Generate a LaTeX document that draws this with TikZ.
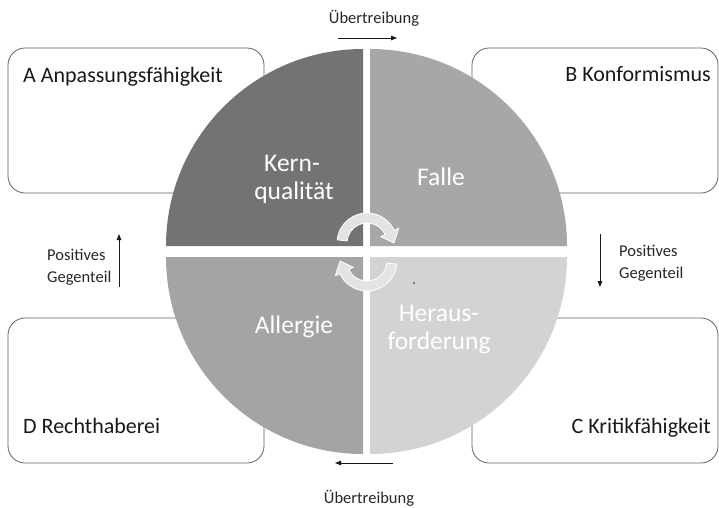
\documentclass[tikz,border=0pt]{standalone}
\usepackage{fontspec}
\setmainfont{Carlito}
\usetikzlibrary{arrows.meta}
\definecolor{qdark}{HTML}{737373}
\definecolor{qmid}{HTML}{A7A7A7}
\definecolor{qmidb}{HTML}{A4A4A4}
\definecolor{qlight}{HTML}{D3D3D3}
\definecolor{cyc}{HTML}{E3E3E3}
\begin{document}
\begin{tikzpicture}[x=1pt,y=1pt,
  box/.style={draw=black!62, line width=0.8pt, rounded corners=17pt, minimum width=#1, minimum height=145pt, inner sep=0pt, outer sep=0pt},
  blab/.style={font=\fontsize{22}{26}\selectfont, text=black!90, inner sep=0pt},
  inlab/.style={font=\fontsize{25.5}{30}\selectfont, text=white, inner sep=0pt},
  slab/.style={font=\fontsize{16.5}{20}\selectfont, text=black!85, inner sep=0pt},
  sarrow/.style={line width=0.9pt, draw=black!90, -{Triangle[length=6pt,width=4.5pt]}},
  cycarrow/.style={fill=cyc, draw=white, line width=0.8pt, line join=round}
]
\useasboundingbox (0,0) rectangle (719,-507);

% corner boxes (behind the circle)
\node[box=256pt] (boxA) at (136,-120.5) {};
\node[box=246pt] (boxB) at (595,-120.5) {};
\node[box=256pt] (boxD) at (136,-390.5) {};
\node[box=246pt] (boxC) at (595,-390.5) {};

% quadrants
\fill[qdark]  (363,-246) -- ++(-197,0) arc[start angle=180, end angle=90, radius=197] -- cycle;
\fill[qmid]   (370,-246) -- ++(0,197) arc[start angle=90, end angle=0, radius=197] -- cycle;
\fill[qmidb]  (363,-257) -- ++(-197,0) arc[start angle=180, end angle=270, radius=197] -- cycle;
\fill[qlight] (370,-257) -- ++(197,0) arc[start angle=0, end angle=-90, radius=197] -- cycle;

% circular arrows
\coordinate (cT) at (367,-243);
\coordinate (cB) at (367,-261);
\path[cycarrow] ([shift={(174:30)}]cT) arc[start angle=174, end angle=25, radius=30]
  -- ([shift={(25:35)}]cT) -- ([shift={(0:27)}]cT) -- ([shift={(25:15)}]cT)
  -- ([shift={(25:20)}]cT) arc[start angle=25, end angle=174, radius=20] -- cycle;
\path[cycarrow] ([shift={(-6:30)}]cB) arc[start angle=-6, end angle=-155, radius=30]
  -- ([shift={(-155:35)}]cB) -- ([shift={(-180:27)}]cB) -- ([shift={(-155:15)}]cB)
  -- ([shift={(-155:20)}]cB) arc[start angle=-155, end angle=-6, radius=20] -- cycle;

% small dot
\fill[black!70] (414,-283) circle[radius=1];

% quadrant texts
\node[inlab, anchor=base] (kern) at (292,-171) {Kern-};
\node[inlab, anchor=base] (qual) at (294,-199) {qualität};
\node[inlab, anchor=base] (falle) at (441,-185) {Falle};
\node[inlab, anchor=base] (allergie) at (294,-333) {Allergie};
\node[inlab, anchor=base] (heraus) at (439,-321) {Heraus-};
\node[inlab, anchor=base] (forder) at (439,-349) {forderung};

% box texts
\node[blab, anchor=base west] (labA) at (23,-82) {A Anpassungsfähigkeit};
\node[blab, anchor=base east] (labB) at (711,-81) {B Konformismus};
\node[blab, anchor=base west] (labD) at (23,-433) {D Rechthaberei};
\node[blab, anchor=base east] (labC) at (711,-433) {C Kritikfähigkeit};

% small labels and arrows
\node[slab, anchor=base] (ueT) at (374,-23) {Übertreibung};
\node[slab, anchor=base] (ueB) at (369,-503) {Übertreibung};
\coordinate (aT1) at (338,-38); \coordinate (aT2) at (397,-38);
\coordinate (aB1) at (393,-463); \coordinate (aB2) at (335,-463);
\draw[sarrow] (aT1) -- (aT2);
\draw[sarrow] (aB1) -- (aB2);

\node[slab, anchor=base west] (posL) at (47,-260) {Positives};
\node[slab, anchor=base west] (gegL) at (47,-282) {Gegenteil};
\node[slab, anchor=base west] (posR) at (619,-256) {Positives};
\node[slab, anchor=base west] (gegR) at (619,-278) {Gegenteil};
\coordinate (aL1) at (119,-287); \coordinate (aL2) at (119,-234);
\coordinate (aR1) at (600,-234); \coordinate (aR2) at (600,-287);
\draw[sarrow] (aL1) -- (aL2);
\draw[sarrow] (aR1) -- (aR2);
\end{tikzpicture}
\end{document}
